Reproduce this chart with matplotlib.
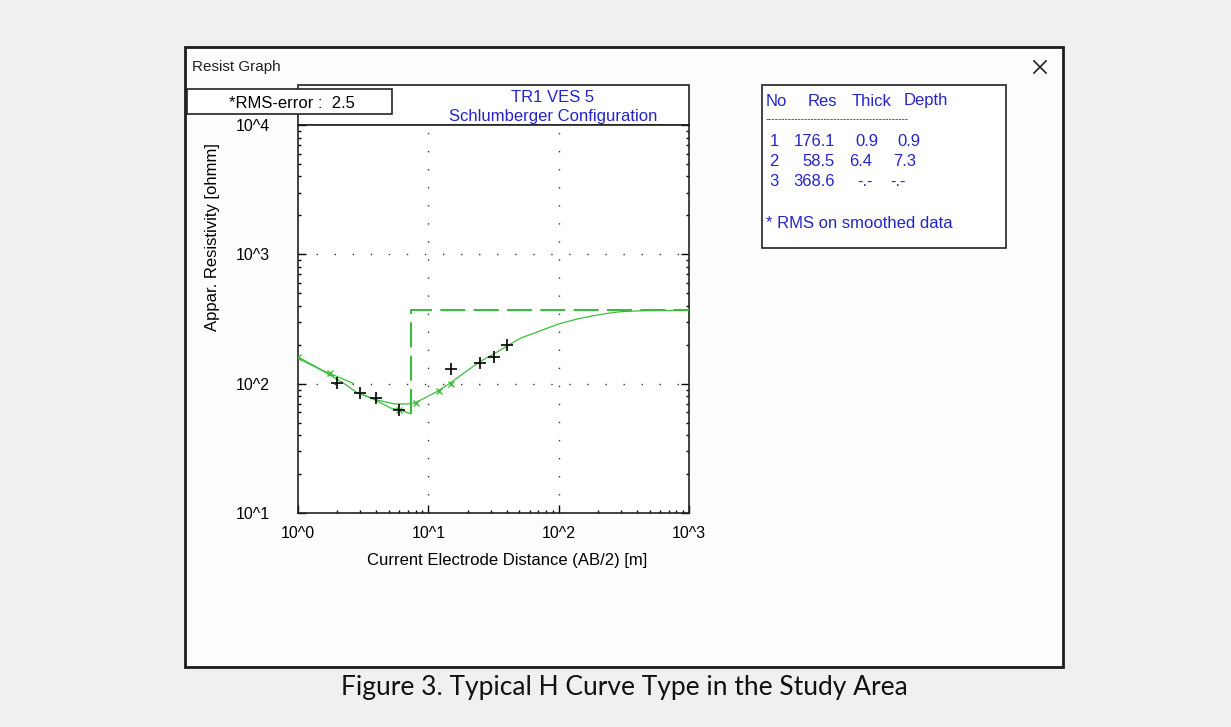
"""VES resistivity sounding graph (H curve) redrawn with matplotlib."""

import matplotlib
matplotlib.use("Agg")
import matplotlib.pyplot as plt
from matplotlib.patches import Rectangle

# observed apparent resistivity (black +)
obs_ab2 = [2, 3, 4, 6, 15, 25, 32, 40]
obs_rho = [101, 85, 78, 63, 129, 145, 161, 199]

# smoothed data (green x) and its polyline pieces
smooth_ab2 = [1, 1.75, 6, 8, 12, 15]
smooth_rho = [160, 120, 63, 71, 87, 100]
seg1_ab2 = [1, 1.56, 2.66]
seg1_rho = [161, 126, 100.5]
seg2_ab2 = [3.2, 4.2, 5.2, 6, 7.3]
seg2_rho = [82, 72, 64.5, 63, 58.5]

# calculated model curve
calc_ab2 = [1, 1.5, 2.2, 2.9, 4, 5.5, 7, 7.9, 9.5, 11.6, 14.6, 19, 24.9, 35.5, 40,
            50.6, 72, 99.5, 138, 183, 234, 297, 374, 474, 1000]
calc_rho = [157, 128, 102, 84, 75, 69.7, 69.7, 71, 78, 86.7, 100.5, 122, 148, 181, 195,
            224, 256, 289, 316, 335, 349, 360, 364, 367, 368.6]

# layered model
layer_no = [1, 2, 3]
layer_res = [176.1, 58.5, 368.6]
layer_thick = ["0.9", "6.4", "-.-"]
layer_depth = ["0.9", "7.3", "-.-"]
model_ab2 = [7.3, 7.3, 1000]
model_rho = [58.5, 368.6, 368.6]

W, H = 1231, 727
BLUE = "#2424c8"
GREEN = "#3cbc3c"
FONT = "Liberation Sans"
FS = 12

fig = plt.figure(figsize=(W / 100, H / 100), dpi=100, facecolor="#f0f0f0")

bg = fig.add_axes([0, 0, 1, 1])
bg.set_xlim(0, W)
bg.set_ylim(H, 0)
bg.axis("off")

# window frame
bg.add_patch(Rectangle((185, 47), 878, 620, facecolor="#fdfdfd", edgecolor="#1c1c1c", lw=2, zorder=1))
bg.text(192, 67, "Resist Graph", fontsize=11, family=FONT, va="center", ha="left", color="#202020")
bg.plot([1034, 1046], [61, 73], color="#222222", lw=1.2, zorder=2)
bg.plot([1034, 1046], [73, 61], color="#222222", lw=1.2, zorder=2)

# title box and rms box
bg.add_patch(Rectangle((298, 85), 391, 40, facecolor="white", edgecolor="#222222", lw=1.2, zorder=2))
bg.text(553, 97, "TR1 VES 5", fontsize=FS, family=FONT, ha="center", va="center", color=BLUE, zorder=3)
bg.text(553, 117, "Schlumberger Configuration", fontsize=FS, family=FONT, ha="center", va="center",
        color=BLUE, zorder=3)
bg.add_patch(Rectangle((187, 89), 205, 25, facecolor="white", edgecolor="#222222", lw=1.2, zorder=4))
bg.text(292, 103, "*RMS-error :  2.5", fontsize=FS, family=FONT, ha="center", va="center", zorder=5)

# layer table
bg.add_patch(Rectangle((762, 85), 244, 163, facecolor="white", edgecolor="#222222", lw=1.2, zorder=2))
tkw = dict(fontsize=FS, family=FONT, va="center", color=BLUE, zorder=3)
bg.text(766, 101, "No", ha="left", **tkw)
bg.text(808, 101, "Res", ha="left", **tkw)
bg.text(852, 101, "Thick", ha="left", **tkw)
bg.text(904, 101, "Depth", ha="left", **tkw)
bg.text(766, 119, "-" * 44, ha="left", fontsize=7, family=FONT, va="center", color=BLUE, zorder=3)
thick_right = [878, 872]
depth_right = [920, 916]
for i, (n, r, t, d) in enumerate(zip(layer_no, layer_res, layer_thick, layer_depth)):
    y = 141 + i * 20.5
    bg.text(779, y, str(n), ha="right", **tkw)
    bg.text(835, y, f"{r:.1f}", ha="right", **tkw)
    if t == "-.-":
        bg.text(857, y, t, ha="left", **tkw)
        bg.text(890, y, d, ha="left", **tkw)
    else:
        bg.text(thick_right[i], y, t, ha="right", **tkw)
        bg.text(depth_right[i], y, d, ha="right", **tkw)
bg.text(766, 223, "* RMS on smoothed data", ha="left", **tkw)

# axis labels
bg.text(212, 237, "Appar. Resistivity [ohmm]", rotation=90, fontsize=FS, family=FONT,
        ha="center", va="center", zorder=3)
bg.text(507, 560, "Current Electrode Distance (AB/2) [m]", fontsize=FS, family=FONT,
        ha="center", va="center", zorder=3)

# caption
bg.text(624, 688, "Figure 3. Typical H Curve Type in the Study Area", fontsize=19, family="Lato",
        ha="center", va="center", color="#111111")

# main plot
ax = fig.add_axes([298 / W, 1 - 513 / H, 391 / W, 388 / H], zorder=5)
ax.set_facecolor("white")
ax.set_xscale("log")
ax.set_yscale("log")
ax.set_xlim(1, 1000)
ax.set_ylim(10, 10000)

for v in [10, 100]:
    ax.axvline(v, color="#333333", lw=1.0, ls=(0, (1, 12)), zorder=1)
for v in [100, 1000]:
    ax.axhline(v, color="#333333", lw=1.0, ls=(0, (1, 12)), zorder=1)

ax.plot(model_ab2, model_rho, color=GREEN, lw=1.5, dashes=(12, 4), zorder=3)
ax.plot(calc_ab2, calc_rho, color=GREEN, lw=0.9, zorder=3)
ax.plot(seg1_ab2, seg1_rho, color=GREEN, lw=0.9, zorder=3)
ax.plot(seg2_ab2, seg2_rho, color=GREEN, lw=0.9, zorder=3)
ax.plot(smooth_ab2, smooth_rho, ls="none", marker="x", ms=5, mew=1, color=GREEN, zorder=4)
ax.plot(obs_ab2, obs_rho, ls="none", marker="+", ms=8, mew=1.2, color="black", zorder=5)

for s in ax.spines.values():
    s.set_linewidth(1.2)
    s.set_color("#222222")

ax.tick_params(which="both", direction="in", top=False, right=True)
ax.tick_params(which="major", length=5.5, width=1)
ax.tick_params(which="minor", length=2.2, width=1)
ax.tick_params(axis="y", which="major", pad=20)
ax.tick_params(axis="x", which="major", pad=9)
ax.set_xticks([1, 10, 100, 1000], ["10^0", "10^1", "10^2", "10^3"])
ax.set_yticks([10, 100, 1000, 10000], ["10^1", "10^2", "10^3", "10^4"])
for lab in ax.get_xticklabels() + ax.get_yticklabels():
    lab.set_family(FONT)
    lab.set_fontsize(11.5)

fig.savefig("out.png", dpi=100, facecolor=fig.get_facecolor())
